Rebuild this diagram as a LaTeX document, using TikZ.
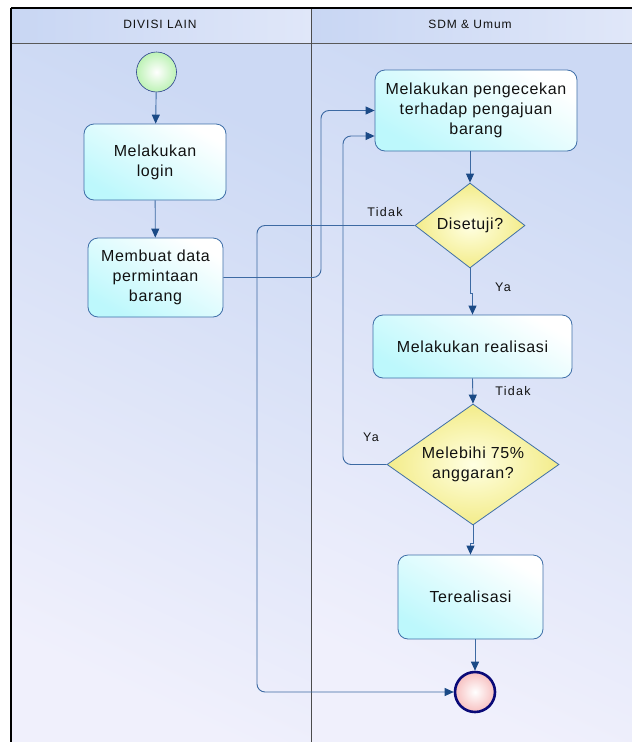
\documentclass[tikz,border=0pt]{standalone}
\usepackage{fontspec}
\setmainfont{Liberation Sans}
\newfontfamily\labfont[LetterSpace=10]{Liberation Sans}
\newfontfamily\boxfont[LetterSpace=4]{Liberation Sans}
\newfontfamily\headfont[LetterSpace=8]{Liberation Sans}
\usetikzlibrary{shapes.geometric,arrows.meta,calc}
\definecolor{laneA}{HTML}{CCD9F4}
\definecolor{laneB}{HTML}{F0F0FC}
\definecolor{headA}{HTML}{C8D6F3}
\definecolor{headB}{HTML}{E0E7F9}
\definecolor{boxline}{HTML}{3F6FA8}
\definecolor{boxfillB}{HTML}{BDF8FC}
\definecolor{conn}{HTML}{3D6AA3}
\definecolor{tipc}{HTML}{1B4A86}
\definecolor{diaA}{HTML}{FFFFE2}
\definecolor{diaB}{HTML}{F3EC8A}
\definecolor{txt}{HTML}{111111}
\definecolor{HTMLnavy}{HTML}{2A3F8C}
\definecolor{startg}{HTML}{BDF2B5}
\definecolor{endnavy}{HTML}{0A0A78}
\definecolor{endp}{HTML}{F7C0C0}
\tikzset{
  actbox/.style={draw=boxline, line width=0.8pt, rounded corners=10pt,
    top color=white, bottom color=boxfillB, shading angle=-30,
    inner sep=0pt, align=center, text=txt,
    font=\boxfont\fontsize{16}{20}\selectfont},
  decbox/.style={diamond, draw=boxline, line width=0.8pt,
    inner color=diaA, outer color=diaB, inner sep=0pt, align=center, text=txt,
    font=\boxfont\fontsize{16}{20}\selectfont},
  startev/.style={circle, draw=HTMLnavy, line width=0.6pt, inner color=white, outer color=startg, minimum size=40pt, inner sep=0pt},
  endev/.style={circle, draw=endnavy, line width=2.6pt, inner color=white, outer color=endp, minimum size=40pt, inner sep=0pt},
  flow/.style={draw=conn, line width=0.9pt, rounded corners=8pt,
    -{Triangle[length=9pt,width=8pt,color=tipc]}},
  lbl/.style={inner sep=0pt, text=txt, font=\labfont\fontsize{12.5}{14}\selectfont},
  lanehead/.style={inner sep=0pt, text=txt, font=\headfont\fontsize{12}{14}\selectfont}
}
\begin{document}
\begin{tikzpicture}[x=1pt, y=-1pt]
\useasboundingbox (0,0) rectangle (632,742);
\fill[white] (0,0) rectangle (632,742);
% lanes
\shade[top color=laneA, bottom color=laneB, shading angle=-25] (11,43) rectangle (311,742);
\shade[top color=laneA, bottom color=laneB, shading angle=-25] (311,43) rectangle (632,742);
\shade[left color=headA, right color=headB] (11,8) rectangle (311,43);
\shade[left color=headA, right color=headB] (311,8) rectangle (632,43);
\draw[line width=0.9pt, draw=black!65] (11,43) -- (632,43);
\draw[line width=0.9pt, draw=black!70] (311,8) -- (311,742);
\draw[line width=1.3pt] (11,8) -- (632,8);
\draw[line width=1.5pt] (11,8) -- (11,742);
\node[lanehead] (h1) at (160,24) {DIVISI LAIN};
\node[lanehead] (h2) at (470,24) {SDM \& Umum};
% nodes
\node[startev] (start) at (156.5,72) {};
\node[actbox, minimum width=142pt, minimum height=76pt] (b1) at (155,162) {Melakukan\\login};
\node[actbox, minimum width=135pt, minimum height=79pt] (b2) at (155.5,277.5) {Membuat data\\permintaan\\barang};
\node[actbox, minimum width=202pt, minimum height=81pt] (b3) at (476,110.5) {Melakukan pengecekan\\terhadap pengajuan\\barang};
\node[decbox, aspect=1.3, minimum width=110pt, minimum height=85pt] (d1) at (470,225.5) {Disetuji?};
\node[actbox, minimum width=199pt, minimum height=63pt] (b4) at (472.5,346.5) {Melakukan realisasi};
\node[decbox, aspect=1.42, minimum width=172pt, minimum height=121pt] (d2) at (473,464.5) {Melebihi 75\%\\anggaran?};
\node[actbox, minimum width=145pt, minimum height=84pt] (b5) at (470.5,597) {Terealisasi};
\node[endev] (end) at (475,692) {};
% corner coordinates
\coordinate (bk) at (321,200);
\coordinate (tk) at (257,500);
\coordinate (yk) at (343,300);
\coordinate (b3low) at ($(b3.west)+(0,25.5)$);
% connectors
\draw[flow] (start) -- (b1);
\draw[flow] (b1) -- (b2);
\draw[flow] (b2.east) -| (bk) |- (b3.west);
\draw[flow] (d1.north |- b3.south) -- (d1.north);
\draw[flow, rounded corners=0pt] (d1.south) -- ++(0,25) -| (b4.north);
\draw[flow] (d1.west) -| (tk) |- (end.west);
\draw[flow] (b4.south) -- (d2.north);
\draw[flow] (d2.west) -| (yk) |- (b3low);
\draw[flow, rounded corners=0pt] (d2.south) -- ++(0,18) -| (b5.north);
\draw[flow] (end.north |- b5.south) -- (end.north);
% labels
\node[lbl] (l1) at (385,212) {Tidak};
\node[lbl] (l2) at (503,287) {Ya};
\node[lbl] (l3) at (513,391) {Tidak};
\node[lbl] (l4) at (371,437) {Ya};
\end{tikzpicture}
\end{document}
